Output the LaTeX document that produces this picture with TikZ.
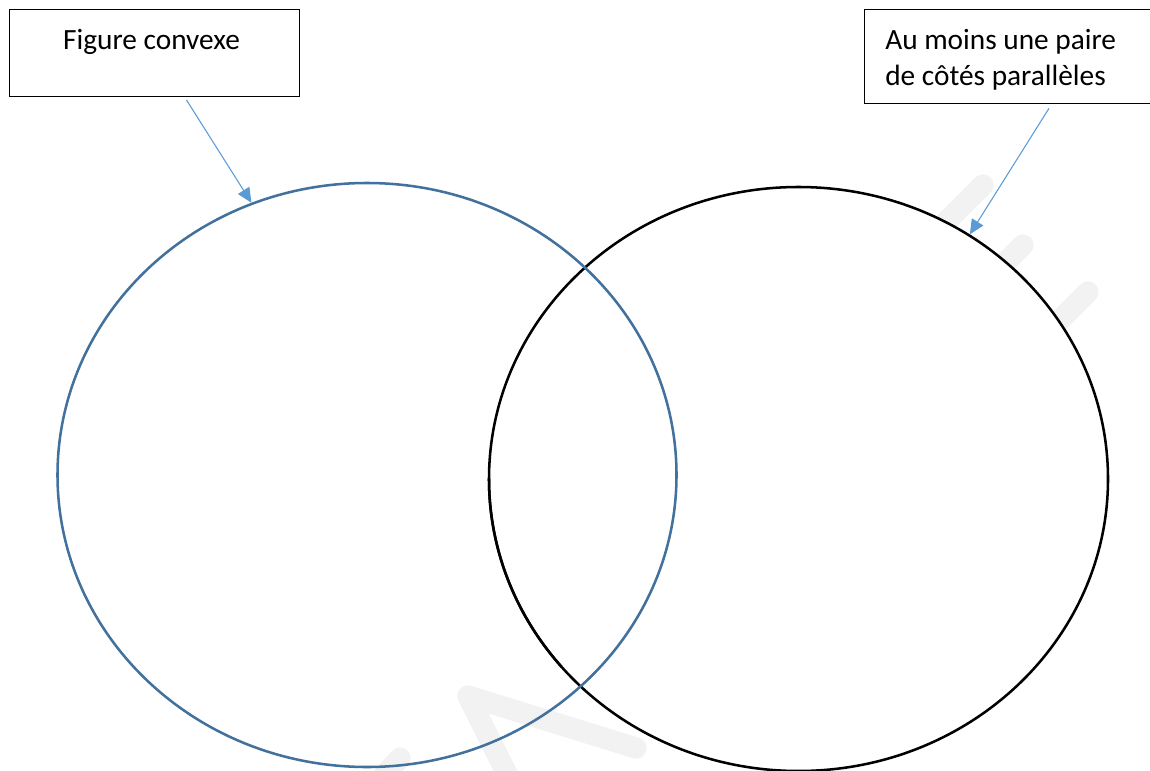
\documentclass[tikz,border=0pt]{standalone}
\usepackage{fontspec}
\setmainfont{Carlito}
\usetikzlibrary{arrows.meta,positioning,shapes.geometric}
\definecolor{VennBlue}   {HTML}{41719C}
\definecolor{ArrowBlue}  {HTML}{5B9BD5}
\definecolor{MarkGray}   {HTML}{F2F2F2}

\begin{document}
\begin{tikzpicture}[x=0.75pt,y=-0.75pt,
    labelbox/.style={draw=black,line width=1pt,inner sep=0pt,anchor=north west},
    labeltext/.style={font=\fontsize{22}{27}\selectfont,inner sep=0pt},
    vennset/.style={ellipse,line width=1.9pt,inner sep=0pt,
      minimum width=464.25pt,minimum height=438pt},
    pointer/.style={draw=ArrowBlue,line width=0.8pt,-{Triangle[length=11pt,width=10pt]}},
    watermark/.style={draw=MarkGray,line width=16pt,line cap=round,line join=round}]
  \useasboundingbox (0,0) rectangle (1150,771);
  % faint marks behind the sets
  \draw[watermark] (983,185) -- (930,238);
  \draw[watermark] (1023,245) -- (975,293);
  \draw[watermark] (1088,292) -- (1035,345);
  \draw[watermark] (636,748) -- (468,696) -- (515,790);
  \draw[watermark] (400,758) -- (380,780);
  % the two sets
  \node[vennset,draw=black,fill=white] (paral) at (798.5,479) {};
  \node[vennset,draw=VennBlue] (convex) at (367,475) {};
  \draw[line width=1.9pt] (paral.center) ++(-309.5,0) arc[start angle=180,end angle=140,x radius=309.5,y radius=292];
  % labels
  \node[labelbox,minimum width=217.5pt,minimum height=65.25pt] (boxconv) at (8.5,9) {};
  \node[labeltext,anchor=base] (txtconv) at (151.5,49) {Figure convexe};
  \node[labelbox,minimum width=225pt,minimum height=70.5pt] (boxparal) at (864,9) {};
  \node[labeltext,anchor=base west] (txtparal) at (885,49) {Au moins une paire};
  \node[labeltext,anchor=base west] (txtparalb) at ([yshift=-27.5pt]txtparal.base west) {de côtés parallèles};
  % pointers
  \draw[pointer] ([xshift=133.5pt,yshift=-2pt]boxconv.south west) -- (convex.113);
  \draw[pointer] ([xshift=138.75pt,yshift=-3pt]boxparal.south west) -- (paral.55);
\end{tikzpicture}
\end{document}
